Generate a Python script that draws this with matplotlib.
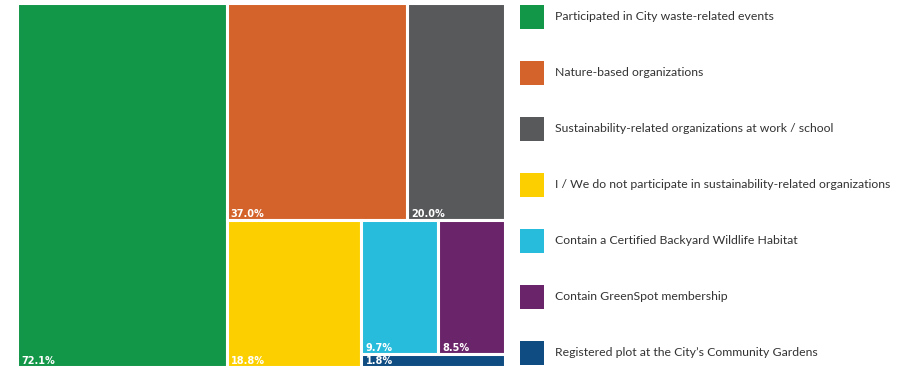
import matplotlib.pyplot as plt
from matplotlib.patches import Rectangle

categories = [
    "Participated in City waste-related events",
    "Nature-based organizations",
    "Sustainability-related organizations at work / school",
    "I / We do not participate in sustainability-related organizations",
    "Contain a Certified Backyard Wildlife Habitat",
    "Contain GreenSpot membership",
    "Registered plot at the City\u2019s Community Gardens",
]
shares = [72.1, 37.0, 20.0, 18.8, 9.7, 8.5, 1.8]
colors = ["#129647", "#D4622B", "#58595B", "#FCD000", "#27BCDC", "#6A2469", "#0F4C81"]

# how many tiles go into each strip of the treemap
strip_sizes = [1, 2, 1, 2, 1]


def layout(values, strips, x, y, w, h):
    """Lay values out as strips along the shorter side of the remaining box."""
    rects = []
    i = 0
    remaining = sum(values)
    for n in strips:
        group = values[i:i + n]
        frac = sum(group) / remaining
        if w >= h:
            # vertical strip on the left
            sw = w * frac
            yy = y + h
            for v in group:
                sh = h * v / sum(group)
                yy -= sh
                rects.append((x, yy, sw, sh))
            x += sw
            w -= sw
        else:
            # horizontal strip on the top
            sh = h * frac
            xx = x
            for v in group:
                sw = w * v / sum(group)
                rects.append((xx, y + h - sh, sw, sh))
                xx += sw
            h -= sh
        remaining -= sum(group)
        i += n
    return rects


W, H = 488.0, 364.0
fig = plt.figure(figsize=(9.08, 3.67), dpi=100)
ax = fig.add_axes([17 / 908, 0, W / 908, H / 367])
ax.set_xlim(0, W)
ax.set_ylim(0, H)
ax.axis("off")

for (x, y, w, h), val, col in zip(layout(shares, strip_sizes, 0, 0, W, H), shares, colors):
    ax.add_patch(Rectangle((x, y), w, h, facecolor=col, edgecolor="white", linewidth=2.2))
    ax.text(x + 4, y + 1, f"{val:.1f}%", color="white", fontsize=7, fontweight="bold",
            family="DejaVu Sans", ha="left", va="bottom", clip_on=True)

# legend column on the right
lax = fig.add_axes([0, 0, 1, 1])
lax.set_xlim(0, 908)
lax.set_ylim(367, 0)
lax.axis("off")
texts = []
for k, (lab, col) in enumerate(zip(categories, colors)):
    cy = 17 + k * 56
    lax.add_patch(Rectangle((520, cy - 12), 24, 24, facecolor=col, edgecolor="none"))
    texts.append(lax.text(555, cy, lab, fontsize=9.5, color="#333333", family="Lato",
                          ha="left", va="center"))

# shrink legend text so the longest entry ends just inside the right edge
renderer = fig.canvas.get_renderer()
widest = max(t.get_window_extent(renderer).width for t in texts)
size = 9.5 * 338 / widest
for t in texts:
    t.set_fontsize(size)

fig.savefig("out.png", dpi=100)
